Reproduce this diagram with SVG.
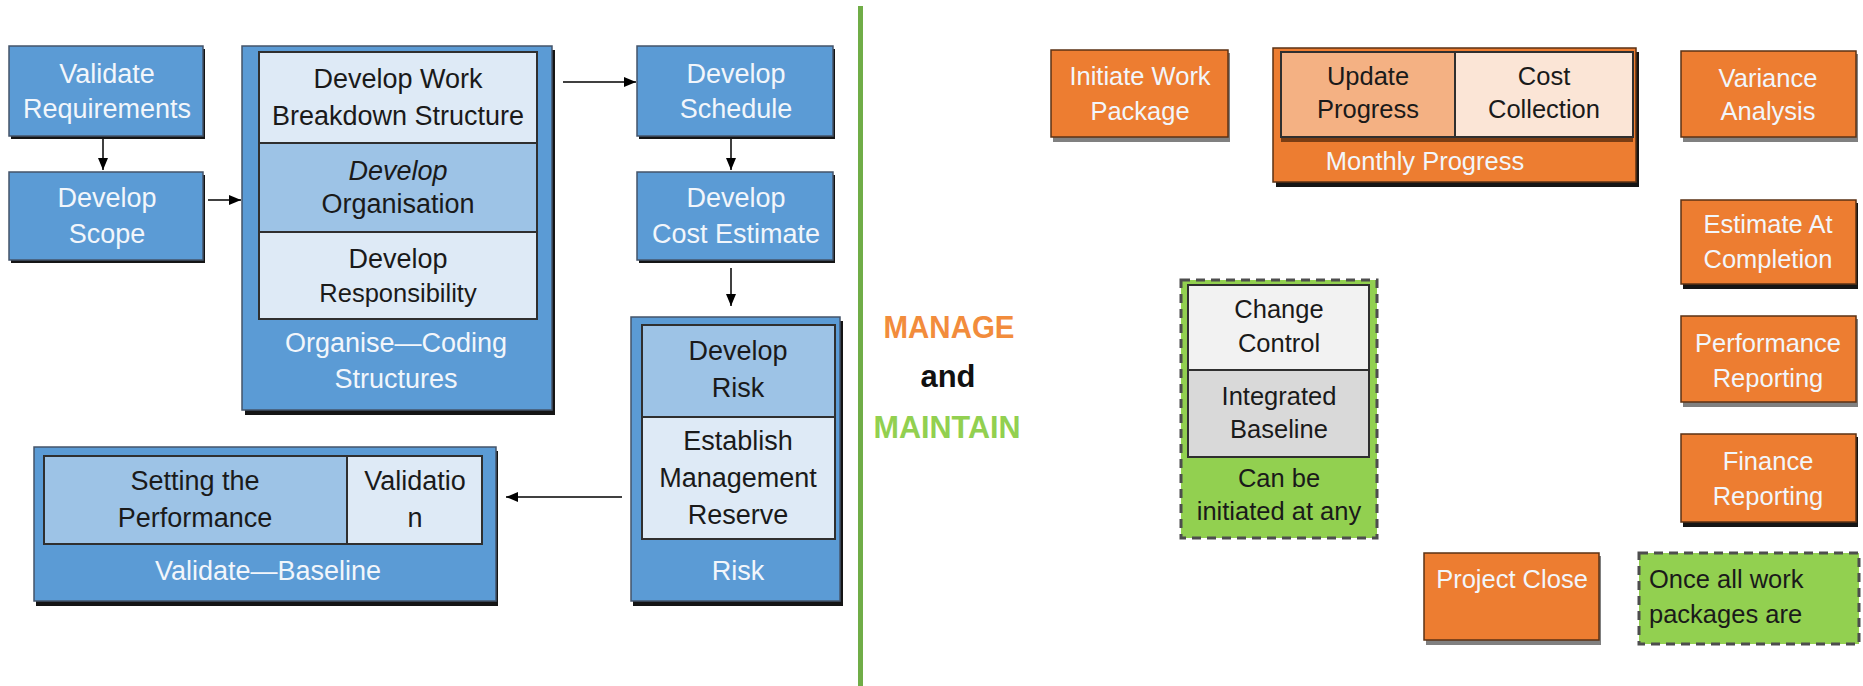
<svg xmlns="http://www.w3.org/2000/svg" width="1863" height="686" viewBox="0 0 1863 686">
  <defs>
    <marker id="arrow" viewBox="0 0 12 10" markerWidth="12" markerHeight="10" refX="12" refY="5" orient="auto" markerUnits="userSpaceOnUse">
      <path d="M0,0 L12,5 L0,10 z" fill="#000"/>
    </marker>
    <style>
      text { font-family: "Liberation Sans", Arial, sans-serif; text-anchor: middle; }
      text.start { text-anchor: start; }
      .t27 { font-size: 27px; }
      .t25 { font-size: 25.5px; }
      .w { fill: #f2f6fb; }
      .k { fill: #1a1a1a; }
      .blue { fill: #5B9BD5; stroke: #44546a; stroke-width: 1.5; }
      .orange { fill: #ED7D31; stroke: #5b3214; stroke-width: 1.5; }
      .cell { stroke: #2f2f2f; stroke-width: 2; }
      .lt { fill: #DEEAF6; }
      .md { fill: #9DC3E6; }
      .sh-dk { fill: #151515; }
      .sh-gy { fill: #808080; }
      .dash { fill: #92D050; stroke: #4d4d4d; stroke-width: 3; stroke-dasharray: 9 6; }
      .conn { stroke: #000; stroke-width: 1.5; fill: none; marker-end: url(#arrow); }
      .big { font-family: "Liberation Sans", Arial, sans-serif; font-weight: bold; font-size: 32px; }
    </style>
  </defs>

  <!-- divider between planning and control phases -->
  <rect id="divider" x="858" y="6" width="5" height="680" fill="#70AD47"/>

  <!-- ===== planning side ===== -->
  <g id="validate-requirements">
    <rect class="sh-dk" x="11" y="49" width="194" height="90"/>
    <rect class="blue" x="9" y="46" width="194" height="90"/>
    <text class="t27 w" x="107" y="83">Validate</text>
    <text class="t27 w" x="107" y="118">Requirements</text>
  </g>

  <g id="develop-scope">
    <rect class="sh-dk" x="11" y="175" width="194" height="88"/>
    <rect class="blue" x="9" y="172" width="194" height="88"/>
    <text class="t27 w" x="107" y="207">Develop</text>
    <text class="t27 w" x="107" y="243">Scope</text>
  </g>

  <g id="organise-coding">
    <rect class="sh-dk" x="245" y="50" width="310" height="365"/>
    <rect class="blue" x="242" y="46" width="310" height="364"/>
    <rect class="cell lt" x="259" y="52" width="278" height="91"/>
    <rect class="cell md" x="259" y="143" width="278" height="89"/>
    <rect class="cell lt" x="259" y="232" width="278" height="87"/>
    <text class="t27 k" x="398" y="88">Develop Work</text>
    <text class="t27 k" x="398" y="125">Breakdown Structure</text>
    <text class="t27 k" x="398" y="180" font-style="italic">Develop</text>
    <text class="t27 k" x="398" y="213">Organisation</text>
    <text class="t27 k" x="398" y="268">Develop</text>
    <text class="t25 k" x="398" y="302">Responsibility</text>
    <text class="t27 w" x="396" y="352">Organise—Coding</text>
    <text class="t27 w" x="396" y="388">Structures</text>
  </g>

  <g id="develop-schedule">
    <rect class="sh-dk" x="639" y="49" width="196" height="90"/>
    <rect class="blue" x="637" y="46" width="196" height="90"/>
    <text class="t27 w" x="736" y="83">Develop</text>
    <text class="t27 w" x="736" y="118">Schedule</text>
  </g>

  <g id="develop-cost-estimate">
    <rect class="sh-dk" x="639" y="175" width="196" height="88"/>
    <rect class="blue" x="637" y="172" width="196" height="88"/>
    <text class="t27 w" x="736" y="207">Develop</text>
    <text class="t27 w" x="736" y="243">Cost Estimate</text>
  </g>

  <g id="risk">
    <rect class="sh-dk" x="633" y="321" width="210" height="285"/>
    <rect class="blue" x="631" y="317" width="209" height="284"/>
    <rect class="cell md" x="642" y="325" width="193" height="92"/>
    <rect class="cell lt" x="642" y="417" width="193" height="122"/>
    <text class="t27 k" x="738" y="360">Develop</text>
    <text class="t27 k" x="738" y="397">Risk</text>
    <text class="t27 k" x="738" y="450">Establish</text>
    <text class="t27 k" x="738" y="487">Management</text>
    <text class="t27 k" x="738" y="524">Reserve</text>
    <text class="t27 w" x="738" y="580">Risk</text>
  </g>

  <g id="validate-baseline">
    <rect class="sh-dk" x="36" y="451" width="462" height="155"/>
    <rect class="blue" x="34" y="447" width="462" height="154"/>
    <rect class="cell md" x="44" y="456" width="303" height="88"/>
    <rect class="cell lt" x="347" y="456" width="135" height="88"/>
    <text class="t27 k" x="195" y="490">Setting the</text>
    <text class="t27 k" x="195" y="527">Performance</text>
    <text class="t27 k" x="415" y="490">Validatio</text>
    <text class="t27 k" x="415" y="527">n</text>
    <text class="t27 w" x="268" y="580">Validate—Baseline</text>
  </g>

  <!-- centre heading -->
  <g id="heading">
    <text class="big" x="949" y="338" fill="#F28C3C" textLength="131" lengthAdjust="spacingAndGlyphs">MANAGE</text>
    <text class="big" x="948" y="387" fill="#111" textLength="55" lengthAdjust="spacingAndGlyphs">and</text>
    <text class="big" x="947" y="438" fill="#92D050" textLength="147" lengthAdjust="spacingAndGlyphs">MAINTAIN</text>
  </g>

  <!-- ===== control side ===== -->
  <g id="initiate-work-package">
    <rect class="sh-gy" x="1053" y="53" width="177" height="89"/>
    <rect class="orange" x="1051" y="50" width="177" height="87"/>
    <text class="t25 w" x="1140" y="85">Initiate Work</text>
    <text class="t25 w" x="1140" y="120">Package</text>
  </g>

  <g id="monthly-progress">
    <rect class="sh-dk" x="1276" y="52" width="363" height="135"/>
    <rect class="orange" x="1273" y="48" width="363" height="134"/>
    <rect x="1281" y="56" width="352" height="86" fill="#7a3d14"/>
    <rect class="cell" x="1281" y="52" width="174" height="85" fill="#F4B183"/>
    <rect class="cell" x="1455" y="52" width="178" height="85" fill="#FBE5D6"/>
    <text class="t25 k" x="1368" y="85">Update</text>
    <text class="t25 k" x="1368" y="118">Progress</text>
    <text class="t25 k" x="1544" y="85">Cost</text>
    <text class="t25 k" x="1544" y="118">Collection</text>
    <text class="t25 w" x="1425" y="170">Monthly Progress</text>
  </g>

  <g id="variance-analysis">
    <rect class="sh-gy" x="1683" y="54" width="175" height="88"/>
    <rect class="orange" x="1681" y="51" width="175" height="86"/>
    <text class="t25 w" x="1768" y="87">Variance</text>
    <text class="t25 w" x="1768" y="120">Analysis</text>
  </g>

  <g id="estimate-at-completion">
    <rect class="sh-dk" x="1683" y="203" width="175" height="86"/>
    <rect class="orange" x="1681" y="200" width="175" height="84"/>
    <text class="t25 w" x="1768" y="233">Estimate At</text>
    <text class="t25 w" x="1768" y="268">Completion</text>
  </g>

  <g id="performance-reporting">
    <rect class="sh-gy" x="1683" y="319" width="175" height="88"/>
    <rect class="orange" x="1681" y="316" width="175" height="86"/>
    <text class="t25 w" x="1768" y="352">Performance</text>
    <text class="t25 w" x="1768" y="387">Reporting</text>
  </g>

  <g id="finance-reporting">
    <rect class="sh-dk" x="1683" y="437" width="175" height="90"/>
    <rect class="orange" x="1681" y="434" width="175" height="88"/>
    <text class="t25 w" x="1768" y="470">Finance</text>
    <text class="t25 w" x="1768" y="505">Reporting</text>
  </g>

  <g id="change-control">
    <rect class="dash" x="1181" y="280" width="196" height="258"/>
    <rect class="cell" x="1188" y="285" width="181" height="85" fill="#F2F2F2"/>
    <rect class="cell" x="1188" y="370" width="181" height="87" fill="#D9D9D9"/>
    <text class="t25 k" x="1279" y="318">Change</text>
    <text class="t25 k" x="1279" y="352">Control</text>
    <text class="t25 k" x="1279" y="405">Integrated</text>
    <text class="t25 k" x="1279" y="438">Baseline</text>
    <text class="t25 k" x="1279" y="487">Can be</text>
    <text class="t25 k" x="1279" y="520">initiated at any</text>
  </g>

  <g id="project-close">
    <rect class="sh-gy" x="1426" y="556" width="175" height="89"/>
    <rect class="orange" x="1424" y="553" width="175" height="87"/>
    <text class="t25 w" x="1512" y="588">Project Close</text>
  </g>

  <g id="closure-note">
    <rect class="dash" x="1639" y="553" width="220" height="91"/>
    <text class="t25 k start" x="1649" y="588">Once all work</text>
    <text class="t25 k start" x="1649" y="623">packages are</text>
  </g>

  <!-- connectors -->
  <g id="connectors">
    <line class="conn" x1="103" y1="139" x2="103" y2="170"/>
    <line class="conn" x1="208" y1="200" x2="241" y2="200"/>
    <line class="conn" x1="563" y1="82" x2="636" y2="82"/>
    <line class="conn" x1="731" y1="139" x2="731" y2="170"/>
    <line class="conn" x1="731" y1="268" x2="731" y2="306"/>
    <line class="conn" x1="622" y1="497" x2="506" y2="497"/>
  </g>
</svg>
